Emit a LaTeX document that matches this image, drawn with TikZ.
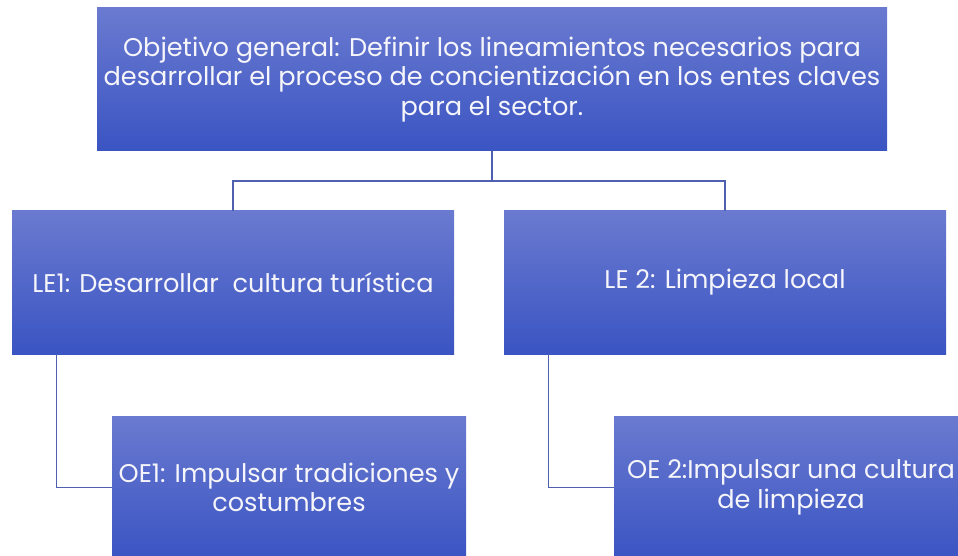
\documentclass[tikz,border=0pt]{standalone}
\usepackage{fontspec}
\setmainfont{Poppins}
\definecolor{boxtop}{RGB}{106,122,208}
\definecolor{boxbot}{RGB}{58,84,194}
\definecolor{linec}{RGB}{80,96,176}
\definecolor{txt}{RGB}{245,245,250}
\begin{document}
\begin{tikzpicture}[x=1pt,y=-1pt,
  box/.style={rectangle, inner sep=0pt, top color=boxtop, bottom color=boxbot, text=txt, align=center, font=\fontsize{25.6}{29.5}\selectfont},
  conn/.style={draw=linec, line width=1.3pt}]
\useasboundingbox (0,0) rectangle (958,556);
\clip (0,0) rectangle (958,556);
\node[box, minimum width=790pt, minimum height=143pt] (top) at (492,79.5) {Objetivo general: Definir los lineamientos necesarios para\\desarrollar el proceso de concientización en los entes claves\\para el sector.};
\node[box, minimum width=442pt, minimum height=143pt] (le1) at (233,282.5) {LE1: Desarrollar\ \ cultura turística};
\node[box, minimum width=442pt, minimum height=143pt] (le2) at (725,282.5) {LE 2: Limpieza local};
\node[box, minimum width=354pt, minimum height=143pt] (oe1) at (289,487.5) {OE1: Impulsar tradiciones y\\costumbres};
\node[box, minimum width=354pt, minimum height=143pt] (oe2) at (791,487.5) {OE 2:Impulsar una cultura\\de limpieza};
\coordinate (mid) at (492,181);
\draw[conn] (top.south) -- (mid);
\draw[conn] (mid) -| (le1.north);
\draw[conn] (mid) -| (le2.north);
\draw[conn] ([xshift=45pt]le1.south west) |- (oe1.west);
\draw[conn] ([xshift=45pt]le2.south west) |- (oe2.west);
\end{tikzpicture}
\end{document}
